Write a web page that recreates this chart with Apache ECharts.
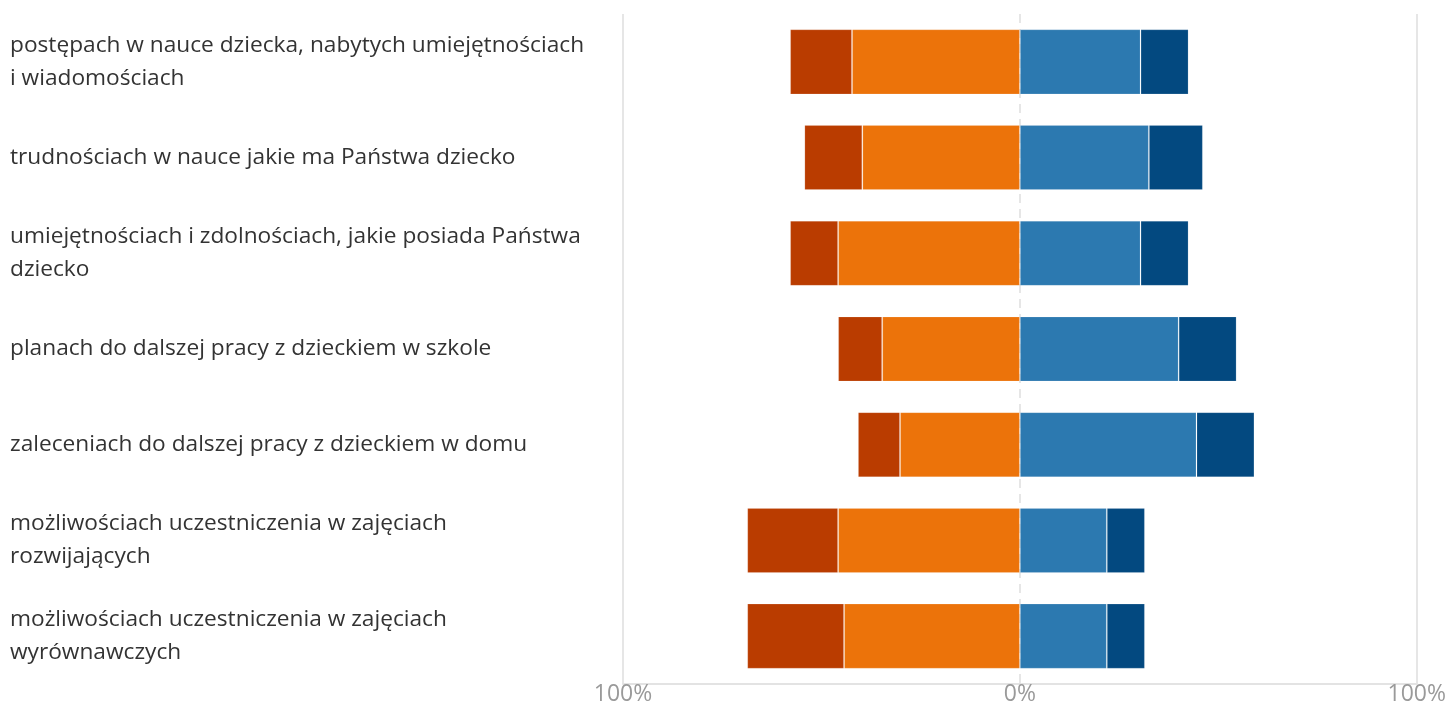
<!DOCTYPE html>
<html>
<head>
<meta charset="utf-8">
<script src="https://cdn.jsdelivr.net/npm/echarts@6/dist/echarts.min.js"></script>
<style>
  html, body { margin: 0; padding: 0; background: #fff; }
  #main { width: 1449px; height: 706px; }
</style>
</head>
<body>
<div id="main"></div>
<script>
// kategorie (od góry)
var categories = [
  'postępach w nauce dziecka, nabytych umiejętnościach\ni wiadomościach',
  'trudnościach w nauce jakie ma Państwa dziecko',
  'umiejętnościach i zdolnościach, jakie posiada Państwa\ndziecko',
  'planach do dalszej pracy z dzieckiem w szkole',
  'zaleceniach do dalszej pracy z dzieckiem w domu',
  'możliwościach uczestniczenia w zajęciach\nrozwijających',
  'możliwościach uczestniczenia w zajęciach\nwyrównawczych'
];

// wartości w % (lewa strona jako ujemne)
var darkRedVals  = [15.6, 14.6, 12.1, 11.1, 10.6, 22.9, 24.4];
var orangeVals   = [42.3, 39.7, 45.8, 34.7, 30.2, 45.8, 44.3];
var blueVals     = [30.4, 32.5, 30.4, 40.0, 44.5, 21.9, 21.9];
var darkBlueVals = [12.1, 13.6, 12.1, 14.6, 14.6, 9.6, 9.6];

var axisTicks = [-100, 0, 100];

var chart = echarts.init(document.getElementById('main'));

function neg(arr) {
  return arr.map(function (v) { return -v; });
}

var barStyle = function (color) {
  return {
    color: color,
    borderColor: 'rgba(255,255,255,0.15)',
    borderWidth: 1
  };
};

var option = {
  backgroundColor: '#FFFFFF',
  animation: false,
  grid: {
    left: 623,
    right: 31,
    top: 14,
    bottom: 19
  },
  xAxis: [
    {
      type: 'value',
      min: axisTicks[0],
      max: axisTicks[2],
      interval: 100,
      axisLine: { show: true, lineStyle: { color: '#e3e3e3', width: 2 } },
      axisTick: { show: false },
      axisLabel: {
        margin: -1,
        fontSize: 23,
        color: '#9a9a9a',
        fontFamily: 'Open Sans',
        formatter: function (v) { return Math.abs(v) + '%'; }
      },
      splitLine: {
        show: true,
        lineStyle: { color: ['#e6e6e6', 'rgba(0,0,0,0)'], width: 2 }
      }
    },
    {
      // tylko przerywana linia w 0%
      type: 'value',
      position: 'top',
      min: axisTicks[0],
      max: axisTicks[2],
      interval: 100,
      axisLine: { show: false },
      axisTick: { show: false },
      axisLabel: { show: false },
      splitLine: {
        show: true,
        lineStyle: { color: ['rgba(0,0,0,0)', '#e6e6e6'], width: 2, type: [9, 6] }
      }
    }
  ],
  yAxis: {
    type: 'category',
    inverse: true,
    data: categories,
    axisLine: { show: false },
    axisTick: { show: false },
    splitLine: { show: false },
    axisLabel: {
      align: 'left',
      margin: 613,
      fontSize: 22.7,
      lineHeight: 33,
      color: '#333333',
      fontFamily: 'Open Sans'
    }
  },
  series: [
    {
      name: 'orange',
      type: 'bar',
      stack: 'total',
      barCategoryGap: '32%',
      itemStyle: barStyle('#EC730A'),
      data: neg(orangeVals)
    },
    {
      name: 'darkred',
      type: 'bar',
      stack: 'total',
      itemStyle: barStyle('#BA3C00'),
      data: neg(darkRedVals)
    },
    {
      name: 'blue',
      type: 'bar',
      stack: 'total',
      itemStyle: barStyle('#2C79B0'),
      data: blueVals
    },
    {
      name: 'darkblue',
      type: 'bar',
      stack: 'total',
      itemStyle: barStyle('#034980'),
      data: darkBlueVals
    }
  ]
};

chart.setOption(option);
window.addEventListener('resize', function () {
  chart.resize();
});
</script>
</body>
</html>
